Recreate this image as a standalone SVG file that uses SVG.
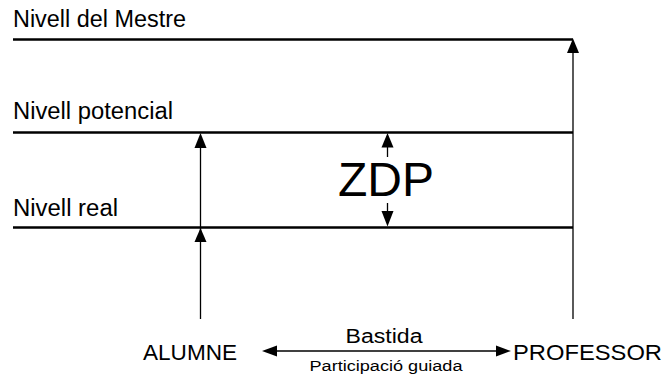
<svg xmlns="http://www.w3.org/2000/svg" width="663" height="381" viewBox="0 0 663 381">
  <style>
    .lvl { stroke: #000; stroke-width: 2.6; fill: none; }
    .ln { stroke: #000; stroke-width: 1.3; fill: none; }
    .head { fill: #000; }
    text { font-family: "Liberation Sans", Arial, sans-serif; fill: #000; }
  </style>

  <!-- level lines -->
  <g id="level-mestre">
    <line class="lvl" x1="13" y1="39.5" x2="573" y2="39.5"/>
    <text x="13" y="27" font-size="23" textLength="173" lengthAdjust="spacingAndGlyphs">Nivell del Mestre</text>
  </g>
  <g id="level-potencial">
    <line class="lvl" x1="13" y1="132.5" x2="573" y2="132.5"/>
    <text x="13" y="119" font-size="23" textLength="160" lengthAdjust="spacingAndGlyphs">Nivell potencial</text>
  </g>
  <g id="level-real">
    <line class="lvl" x1="13" y1="227.5" x2="573" y2="227.5"/>
    <text x="13" y="216" font-size="23" textLength="105" lengthAdjust="spacingAndGlyphs">Nivell real</text>
  </g>

  <g id="zdp">
    <text x="386" y="196" font-size="48" text-anchor="middle">ZDP</text>
  </g>

  <g id="alumne">
    <text x="143" y="360" font-size="22" textLength="94" lengthAdjust="spacingAndGlyphs">ALUMNE</text>
  </g>
  <g id="professor">
    <text x="513" y="360" font-size="22" textLength="149" lengthAdjust="spacingAndGlyphs">PROFESSOR</text>
  </g>

  <!-- connectors -->
  <g id="connectors">
    <!-- professor to master level -->
    <line class="ln" x1="573" y1="319" x2="573" y2="50"/>
    <polygon class="head" points="573,38.5 567,53 579,53"/>

    <!-- student to real and potential levels -->
    <line class="ln" x1="200.5" y1="319" x2="200.5" y2="145"/>
    <polygon class="head" points="200.5,133 194.5,148 206.5,148"/>
    <polygon class="head" points="200.5,228 194.5,242 206.5,242"/>

    <!-- ZDP span -->
    <line class="ln" x1="387.5" y1="145" x2="387.5" y2="157"/>
    <polygon class="head" points="387.5,133 381.5,147.5 393.5,147.5"/>
    <line class="ln" x1="387.5" y1="203" x2="387.5" y2="214"/>
    <polygon class="head" points="387.5,226.5 381.5,211 393.5,211"/>

    <!-- scaffolding -->
    <line class="ln" x1="274" y1="351" x2="499" y2="351"/>
    <polygon class="head" points="262,351 277,345.5 277,356.5"/>
    <polygon class="head" points="511,351 496,345.5 496,356.5"/>
    <text x="384" y="342.5" font-size="20" text-anchor="middle" textLength="77" lengthAdjust="spacingAndGlyphs">Bastida</text>
    <text x="386" y="371" font-size="15.5" text-anchor="middle" textLength="153" lengthAdjust="spacingAndGlyphs">Participació guiada</text>
  </g>
</svg>
